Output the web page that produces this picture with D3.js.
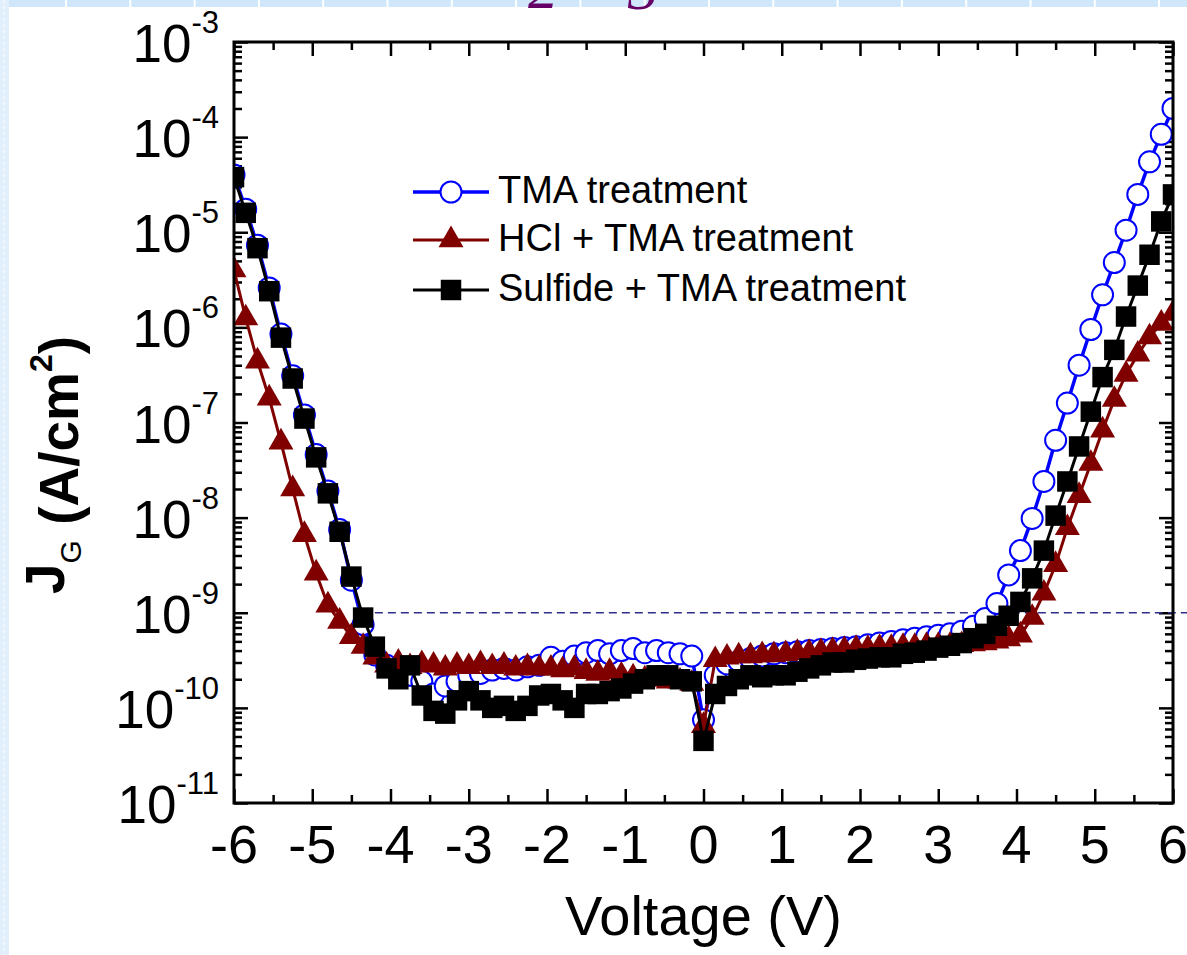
<!DOCTYPE html>
<html>
<head>
<meta charset="utf-8">
<script src="https://d3js.org/d3.v7.min.js"></script>
<style>
  body { margin: 0; background: #fff; }
  text { font-family: "Liberation Sans", Arial, sans-serif; }
</style>
</head>
<body>
<script>
// Gate leakage J_G (A/cm^2) versus gate voltage (V)
var voltage = [
  -6.00,-5.85,-5.70,-5.55,-5.40,-5.25,-5.10,-4.95,-4.80,-4.65,
  -4.50,-4.35,-4.20,-4.05,-3.90,-3.75,-3.60,-3.45,-3.30,-3.15,
  -3.00,-2.85,-2.70,-2.55,-2.40,-2.25,-2.10,-1.95,-1.80,-1.65,
  -1.50,-1.35,-1.20,-1.05,-0.90,-0.75,-0.60,-0.45,-0.30,-0.15,
   0.00, 0.15, 0.30, 0.45, 0.60, 0.75, 0.90, 1.05, 1.20, 1.35,
   1.50, 1.65, 1.80, 1.95, 2.10, 2.25, 2.40, 2.55, 2.70, 2.85,
   3.00, 3.15, 3.30, 3.45, 3.60, 3.75, 3.90, 4.05, 4.20, 4.35,
   4.50, 4.65, 4.80, 4.95, 5.10, 5.25, 5.40, 5.55, 5.70, 5.85,
   6.00
];

var tmaJ = [
  4.0e-5,1.75e-5,7.3e-6,2.6e-6,8.5e-7,3.1e-7,1.2e-7,4.6e-8,1.9e-8,7.5e-9,
  2.2e-9,7.5e-10,3.6e-10,2.8e-10,2.5e-10,2.2e-10,1.9e-10,1.4e-10,1.7e-10,1.9e-10,
  2.2e-10,2.3e-10,2.5e-10,2.6e-10,2.5e-10,2.7e-10,2.8e-10,3.4e-10,3.1e-10,3.5e-10,
  3.8e-10,4.0e-10,3.7e-10,4.0e-10,4.2e-10,3.8e-10,4.0e-10,3.8e-10,3.7e-10,3.5e-10,
  7.5e-11,2.2e-10,2.9e-10,3.1e-10,3.3e-10,3.5e-10,3.7e-10,3.8e-10,3.9e-10,4.0e-10,
  4.1e-10,4.2e-10,4.3e-10,4.4e-10,4.6e-10,4.8e-10,5.0e-10,5.2e-10,5.4e-10,5.6e-10,
  5.8e-10,6.0e-10,6.4e-10,7.2e-10,8.7e-10,1.25e-9,2.5e-9,4.5e-9,9.8e-9,2.4e-8,
  6.5e-8,1.6e-7,4.0e-7,9.5e-7,2.2e-6,4.8e-6,1.05e-5,2.5e-5,5.5e-5,1.07e-4,
  2.0e-4
];

var hclJ = [
  4.0e-6,1.25e-6,4.4e-7,1.8e-7,6.2e-8,2.0e-8,6.6e-9,2.6e-9,1.2e-9,8.1e-10,
  5.6e-10,4.4e-10,3.4e-10,2.8e-10,3.0e-10,2.7e-10,2.9e-10,2.8e-10,2.6e-10,2.8e-10,
  2.7e-10,2.9e-10,2.7e-10,2.8e-10,2.6e-10,2.7e-10,2.6e-10,2.6e-10,2.5e-10,2.6e-10,
  2.4e-10,2.3e-10,2.4e-10,2.2e-10,2.1e-10,2.0e-10,2.0e-10,1.9e-10,1.9e-10,1.8e-10,
  6.5e-11,3.2e-10,3.4e-10,3.5e-10,3.5e-10,3.6e-10,3.6e-10,3.7e-10,3.8e-10,3.8e-10,
  3.9e-10,4.0e-10,4.1e-10,4.2e-10,4.2e-10,4.3e-10,4.3e-10,4.4e-10,4.4e-10,4.5e-10,
  4.5e-10,4.5e-10,4.6e-10,4.7e-10,4.8e-10,5.0e-10,5.3e-10,5.8e-10,8.9e-10,1.6e-9,
  3.2e-9,7.8e-9,1.7e-8,3.7e-8,8.3e-8,1.74e-7,3.2e-7,5.2e-7,7.9e-7,1.1e-6,
  1.4e-6
];

var sulfideJ = [
  3.8e-5,1.6e-5,6.8e-6,2.4e-6,7.8e-7,2.9e-7,1.1e-7,4.3e-8,1.8e-8,7.1e-9,
  2.4e-9,8.9e-10,4.4e-10,2.6e-10,2.0e-10,2.8e-10,1.35e-10,9.3e-11,8.7e-11,1.2e-10,
  1.5e-10,1.2e-10,1.0e-10,1.05e-10,9.3e-11,1.05e-10,1.35e-10,1.4e-10,1.2e-10,1.0e-10,
  1.4e-10,1.4e-10,1.5e-10,1.6e-10,1.8e-10,2.0e-10,2.2e-10,2.2e-10,2.0e-10,1.9e-10,
  4.5e-11,1.4e-10,1.7e-10,2.0e-10,2.2e-10,2.1e-10,2.2e-10,2.2e-10,2.4e-10,2.6e-10,
  2.8e-10,3.0e-10,3.0e-10,3.2e-10,3.3e-10,3.4e-10,3.4e-10,3.7e-10,3.8e-10,4.0e-10,
  4.3e-10,4.5e-10,4.8e-10,5.4e-10,6.0e-10,7.3e-10,9.3e-10,1.3e-9,2.3e-9,4.5e-9,
  1.05e-8,2.4e-8,5.6e-8,1.3e-7,3.0e-7,5.8e-7,1.3e-6,2.75e-6,5.8e-6,1.3e-5,
  2.5e-5
];

var seriesNames = ["TMA treatment", "HCl + TMA treatment", "Sulfide + TMA treatment"];
var xTickValues = [-6,-5,-4,-3,-2,-1,0,1,2,3,4,5,6];
var yExponents = [-11,-10,-9,-8,-7,-6,-5,-4,-3];
var refLevel = 1e-9;      // dashed reference line
var refStartV = -4.2;

var W = 1187, H = 955;
var L = 234, R = 1173, T = 42, B = 803;

var svg = d3.select("body").append("svg")
    .attr("width", W).attr("height", H)
    .style("display", "block");

// slide remnants around the figure
svg.append("rect").attr("x", 0).attr("y", 0).attr("width", W).attr("height", 7).attr("fill", "#cfe6fb");
svg.append("g").selectAll("rect")
    .data(d3.range(65, W, 64.3))
    .join("rect")
    .attr("x", d => d).attr("y", 0).attr("width", 2).attr("height", 7).attr("fill", "#fff");
svg.append("rect").attr("x", 0).attr("y", 0).attr("width", 9).attr("height", H).attr("fill", "#e1effc");
svg.append("line").attr("x1", 4).attr("x2", 4).attr("y1", 0).attr("y2", H)
    .attr("stroke", "#fff").attr("stroke-width", 1).attr("stroke-dasharray", "3,3");
svg.append("text").attr("x", 528).attr("y", 8)
    .style("font-family", "'Liberation Serif', serif").style("font-style", "italic")
    .attr("font-size", 60).attr("fill", "#660066").text("2");
svg.append("text").attr("x", 628).attr("y", 9)
    .style("font-family", "'Liberation Serif', serif").style("font-style", "italic")
    .attr("font-size", 60).attr("fill", "#660066").text("3");

var x = d3.scaleLinear().domain([-6, 6]).range([L, R]);
var y = d3.scaleLog().domain([1e-11, 1e-3]).range([B, T]);

// tick positions
var xMinor = [];
xTickValues.slice(0, -1).forEach(v => xMinor.push(v + 0.5));
var yMajor = yExponents.map(e => Math.pow(10, e));
var yMinor = [];
yExponents.slice(0, -1).forEach(e => {
  for (var m = 2; m <= 9; m++) yMinor.push(m * Math.pow(10, e));
});

function styleAxis(g) {
  g.select(".domain").remove();
  g.selectAll("line").attr("stroke", "#000").attr("stroke-width", 2.5);
}

svg.append("g").attr("transform", `translate(0,${B})`)
    .call(d3.axisBottom(x).tickValues(xTickValues).tickSize(-14).tickFormat("")).call(styleAxis);
svg.append("g").attr("transform", `translate(0,${B})`)
    .call(d3.axisBottom(x).tickValues(xMinor).tickSize(-8).tickFormat("")).call(styleAxis);
svg.append("g").attr("transform", `translate(0,${T})`)
    .call(d3.axisTop(x).tickValues(xTickValues).tickSize(-14).tickFormat("")).call(styleAxis);
svg.append("g").attr("transform", `translate(0,${T})`)
    .call(d3.axisTop(x).tickValues(xMinor).tickSize(-8).tickFormat("")).call(styleAxis);
svg.append("g").attr("transform", `translate(${L},0)`)
    .call(d3.axisLeft(y).tickValues(yMajor).tickSize(-14).tickFormat("")).call(styleAxis);
svg.append("g").attr("transform", `translate(${L},0)`)
    .call(d3.axisLeft(y).tickValues(yMinor).tickSize(-8).tickFormat("")).call(styleAxis);
svg.append("g").attr("transform", `translate(${R},0)`)
    .call(d3.axisRight(y).tickValues(yMajor).tickSize(-14).tickFormat("")).call(styleAxis);
svg.append("g").attr("transform", `translate(${R},0)`)
    .call(d3.axisRight(y).tickValues(yMinor).tickSize(-8).tickFormat("")).call(styleAxis);

// tick labels
svg.append("g").selectAll("text")
    .data(xTickValues)
    .join("text")
    .attr("x", d => x(d)).attr("y", 863)
    .attr("text-anchor", "middle").attr("font-size", 54)
    .text(d => d);

var yl = svg.append("g").selectAll("text")
    .data(yExponents)
    .join("text")
    .attr("x", 219).attr("y", d => y(Math.pow(10, d)) + 20)
    .attr("text-anchor", "end").attr("font-size", 53);
yl.append("tspan").text("10");
yl.append("tspan").attr("font-size", 31).attr("dy", -29).text(d => d);

// axis titles
svg.append("text").attr("x", (L + R) / 2).attr("y", 935)
    .attr("text-anchor", "middle").attr("font-size", 56).text("Voltage (V)");

var yt = svg.append("text")
    .attr("transform", "translate(78,465) rotate(-90)")
    .attr("text-anchor", "middle").attr("font-size", 55).attr("font-weight", "bold");
yt.append("tspan").attr("dy", -14).text("J");
yt.append("tspan").attr("font-size", 30).attr("font-weight", "normal").attr("dy", 17).text("G");
yt.append("tspan").attr("dy", -3).text(" (A/cm");
yt.append("tspan").attr("font-size", 32).attr("dy", -26).text("2");
yt.append("tspan").attr("dy", 26).text(")");

// dashed reference line at 1e-9
svg.append("line")
    .attr("x1", x(refStartV)).attr("x2", W)
    .attr("y1", y(refLevel)).attr("y2", y(refLevel))
    .attr("stroke", "#2e2e8c").attr("stroke-width", 1.5).attr("stroke-dasharray", "8,5");

// series
var series = [
  {name: seriesNames[0], values: tmaJ, color: "#0000ff", width: 3.5, type: "circle"},
  {name: seriesNames[1], values: hclJ, color: "#800000", width: 3, type: "triangle"},
  {name: seriesNames[2], values: sulfideJ, color: "#000000", width: 3, type: "square"}
];

svg.append("clipPath").attr("id", "plotclip")
  .append("rect").attr("x", L).attr("y", T).attr("width", R - L).attr("height", B - T);

var plot = svg.append("g").attr("clip-path", "url(#plotclip)");

var line = d3.line().x(d => x(d[0])).y(d => y(d[1]));

function drawMarker(g, type, color) {
  if (type === "circle") {
    g.append("circle").attr("r", 10.5).attr("fill", "#fff").attr("stroke", color).attr("stroke-width", 2);
  } else if (type === "triangle") {
    g.append("path").attr("d", d3.symbol().type(d3.symbolTriangle).size(270)()).attr("fill", color);
  } else {
    g.append("path").attr("d", d3.symbol().type(d3.symbolSquare).size(420)()).attr("fill", color);
  }
}

series.forEach(s => {
  var pts = voltage.map((v, i) => [v, s.values[i]]);
  var g = plot.append("g");
  g.append("path").attr("d", line(pts)).attr("fill", "none")
      .attr("stroke", s.color).attr("stroke-width", s.width).attr("stroke-linejoin", "round");
  g.selectAll("g.m").data(pts).join("g").attr("class", "m")
      .attr("transform", d => `translate(${x(d[0])},${y(d[1])})`)
      .each(function() { drawMarker(d3.select(this), s.type, s.color); });
});

// frame
svg.append("rect").attr("x", L).attr("y", T).attr("width", R - L).attr("height", B - T)
    .attr("fill", "none").attr("stroke", "#000").attr("stroke-width", 3);

// legend
var lg = svg.append("g");
var legendY = [192, 240, 290];
series.forEach((s, i) => {
  var row = lg.append("g").attr("transform", `translate(0,${legendY[i]})`);
  row.append("line").attr("x1", 413).attr("x2", 489).attr("y1", 0).attr("y2", 0)
      .attr("stroke", s.color).attr("stroke-width", s.width);
  drawMarker(row.append("g").attr("transform", "translate(451,0)"), s.type, s.color);
  row.append("text").attr("x", 498).attr("y", 11).attr("font-size", 38).text(s.name);
});
</script>
</body>
</html>
